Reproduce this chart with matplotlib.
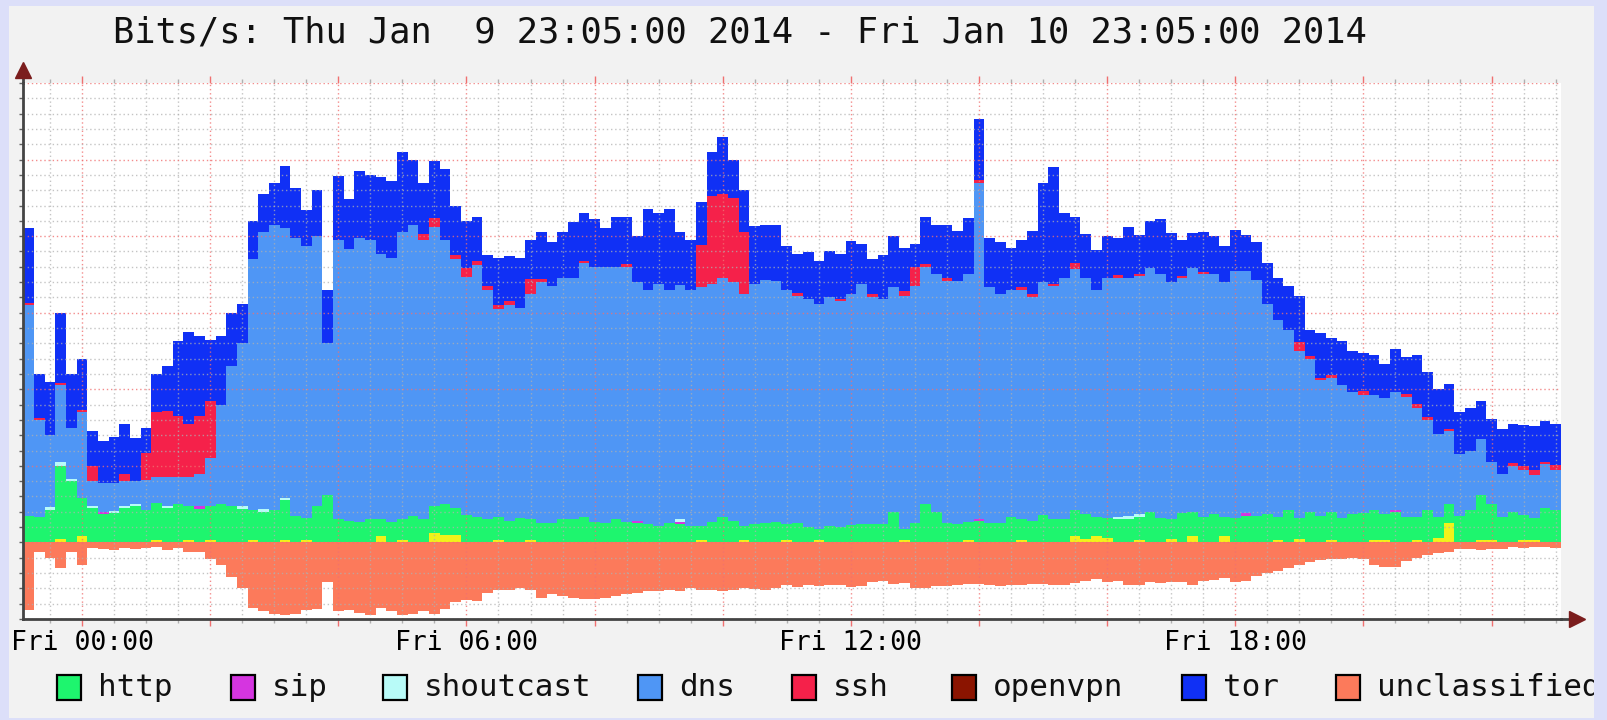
import numpy as np
import matplotlib
matplotlib.use("Agg")
import matplotlib.pyplot as plt
import matplotlib.dates as mdates
from matplotlib.patches import Rectangle
from matplotlib.ticker import MultipleLocator, FuncFormatter
from datetime import datetime, timedelta

# 10 minute steps from Thu Jan 9 23:05 to Fri Jan 10 23:05
start = datetime(2014, 1, 9, 23, 5)
step = timedelta(minutes=10)
n_steps = 144

# stack tops (units of one major grid step)
tor_top = [4.1, 2.2, 2.1, 3.0, 2.2, 2.4, 1.45, 1.32, 1.38, 1.55,
           1.37, 1.5, 2.2, 2.3, 2.63, 2.75, 2.7, 2.65, 2.7, 3.0,
           3.12, 4.2, 4.55, 4.69, 4.92, 4.63, 4.34, 4.6, 3.3, 4.78,
           4.48, 4.85, 4.8, 4.77, 4.72, 5.1, 5.0, 4.7, 4.98, 4.88,
           4.4, 4.2, 4.25, 3.75, 3.72, 3.74, 3.72, 3.95, 4.05, 3.93,
           4.05, 4.18, 4.3, 4.22, 4.1, 4.25, 4.25, 4.0, 4.35, 4.3,
           4.35, 4.05, 3.95, 4.45, 5.1, 5.3, 5.0, 4.6, 4.13, 4.15,
           4.15, 3.87, 3.77, 3.79, 3.68, 3.81, 3.77, 3.94, 3.9, 3.7,
           3.75, 4.0, 3.85, 3.9, 4.25, 4.15, 4.15, 4.07, 4.24, 5.53,
           3.97, 3.92, 3.85, 3.95, 4.07, 4.7, 4.9, 4.3, 4.25, 4.03,
           3.82, 4.0, 3.98, 4.12, 4.02, 4.2, 4.23, 4.04, 3.95, 4.04,
           4.06, 4.0, 3.87, 4.08, 4.02, 3.93, 3.65, 3.45, 3.35, 3.22,
           2.77, 2.73, 2.67, 2.63, 2.5, 2.47, 2.45, 2.33, 2.53, 2.42,
           2.45, 2.23, 2.0, 2.07, 1.7, 1.75, 1.85, 1.61, 1.48, 1.55,
           1.53, 1.52, 1.58, 1.55]

dns_top = [3.1, 1.6, 1.4, 2.05, 1.5, 1.7, 0.8, 0.78, 0.78, 0.8,
           0.8, 0.82, 0.85, 0.85, 0.85, 0.85, 0.9, 1.1, 1.8, 2.3,
           2.6, 3.7, 4.05, 4.15, 4.1, 3.97, 3.87, 4.0, 2.6, 3.95,
           3.83, 3.98, 3.95, 3.77, 3.72, 4.05, 4.15, 3.95, 4.12, 3.95,
           3.7, 3.47, 3.62, 3.3, 3.05, 3.1, 3.06, 3.24, 3.4, 3.35,
           3.45, 3.45, 3.65, 3.6, 3.6, 3.6, 3.6, 3.4, 3.3, 3.37,
           3.3, 3.36, 3.3, 3.33, 3.37, 3.45, 3.4, 3.25, 3.38, 3.43,
           3.42, 3.3, 3.22, 3.18, 3.12, 3.2, 3.15, 3.25, 3.38, 3.2,
           3.18, 3.33, 3.22, 3.35, 3.6, 3.5, 3.42, 3.42, 3.5, 4.7,
           3.33, 3.25, 3.3, 3.3, 3.2, 3.4, 3.35, 3.45, 3.57, 3.45,
           3.3, 3.45, 3.45, 3.45, 3.48, 3.58, 3.5, 3.4, 3.45, 3.58,
           3.5, 3.5, 3.4, 3.55, 3.55, 3.43, 3.12, 2.9, 2.78, 2.5,
           2.4, 2.12, 2.15, 2.05, 1.97, 1.93, 1.92, 1.88, 1.97, 1.9,
           1.75, 1.6, 1.42, 1.45, 1.15, 1.2, 1.35, 1.05, 0.9, 1.0,
           0.95, 0.88, 1.02, 0.95]

http_top = [0.35, 0.33, 0.42, 1.0, 0.8, 0.58, 0.45, 0.37, 0.38, 0.45,
            0.47, 0.42, 0.52, 0.45, 0.5, 0.47, 0.44, 0.47, 0.5, 0.48,
            0.44, 0.42, 0.4, 0.42, 0.55, 0.34, 0.32, 0.48, 0.62, 0.3,
            0.28, 0.27, 0.3, 0.3, 0.27, 0.31, 0.35, 0.3, 0.48, 0.5,
            0.45, 0.36, 0.33, 0.3, 0.33, 0.28, 0.32, 0.3, 0.26, 0.26,
            0.3, 0.3, 0.33, 0.27, 0.26, 0.3, 0.27, 0.25, 0.24, 0.22,
            0.25, 0.24, 0.21, 0.22, 0.27, 0.33, 0.28, 0.22, 0.24, 0.26,
            0.27, 0.24, 0.25, 0.2, 0.18, 0.22, 0.2, 0.23, 0.24, 0.24,
            0.24, 0.4, 0.18, 0.26, 0.5, 0.4, 0.25, 0.24, 0.27, 0.28,
            0.26, 0.26, 0.33, 0.3, 0.28, 0.36, 0.3, 0.31, 0.43, 0.37,
            0.33, 0.32, 0.3, 0.31, 0.33, 0.4, 0.32, 0.3, 0.38, 0.4,
            0.33, 0.37, 0.33, 0.32, 0.35, 0.35, 0.37, 0.33, 0.42, 0.32,
            0.4, 0.35, 0.4, 0.32, 0.37, 0.38, 0.43, 0.37, 0.4, 0.33,
            0.33, 0.43, 0.33, 0.5, 0.34, 0.43, 0.62, 0.5, 0.33, 0.4,
            0.36, 0.32, 0.45, 0.42]

# drawn below the zero line
unclassified = [0.88, 0.12, 0.2, 0.34, 0.12, 0.3, 0.07, 0.08, 0.1, 0.07,
                0.08, 0.07, 0.06, 0.1, 0.07, 0.12, 0.12, 0.22, 0.3, 0.45,
                0.6, 0.85, 0.9, 0.94, 0.95, 0.93, 0.88, 0.87, 0.52, 0.89,
                0.88, 0.92, 0.95, 0.85, 0.9, 0.95, 0.93, 0.9, 0.93, 0.87,
                0.78, 0.75, 0.76, 0.66, 0.62, 0.62, 0.6, 0.62, 0.72, 0.68,
                0.7, 0.72, 0.74, 0.74, 0.72, 0.7, 0.68, 0.66, 0.64, 0.64,
                0.62, 0.64, 0.6, 0.62, 0.62, 0.63, 0.62, 0.6, 0.61, 0.62,
                0.6, 0.56, 0.58, 0.56, 0.57, 0.56, 0.55, 0.58, 0.57, 0.52,
                0.5, 0.54, 0.53, 0.6, 0.6, 0.57, 0.57, 0.56, 0.54, 0.54,
                0.55, 0.57, 0.56, 0.56, 0.54, 0.54, 0.55, 0.55, 0.53, 0.5,
                0.48, 0.52, 0.5, 0.55, 0.55, 0.52, 0.53, 0.52, 0.52, 0.55,
                0.5, 0.49, 0.47, 0.52, 0.5, 0.44, 0.4, 0.37, 0.33, 0.3,
                0.25, 0.23, 0.21, 0.21, 0.2, 0.22, 0.3, 0.32, 0.32, 0.24,
                0.2, 0.17, 0.14, 0.13, 0.08, 0.08, 0.1, 0.08, 0.09, 0.06,
                0.07, 0.06, 0.06, 0.07]

# thin series, only the steps where they show up
ssh_spots = {0: 0.03, 1: 0.03, 3: 0.03, 5: 0.03, 6: 0.2, 9: 0.1, 11: 0.35,
             12: 0.85, 13: 0.87, 14: 0.8, 15: 0.7, 16: 0.75, 17: 0.75,
             37: 0.08, 38: 0.12, 40: 0.05, 41: 0.12, 42: 0.05, 43: 0.05,
             44: 0.05, 45: 0.05, 47: 0.2, 48: 0.04, 52: 0.03, 56: 0.04,
             63: 0.55, 64: 1.15, 65: 1.1, 66: 1.1, 67: 0.8, 72: 0.04,
             76: 0.03, 79: 0.05, 82: 0.06, 83: 0.25, 84: 0.03, 86: 0.03,
             89: 0.03, 93: 0.03, 94: 0.04, 96: 0.03, 98: 0.08, 102: 0.04,
             104: 0.03, 108: 0.03, 110: 0.03, 119: 0.12, 120: 0.04,
             121: 0.03, 122: 0.04, 125: 0.05, 129: 0.04, 130: 0.06,
             131: 0.04, 133: 0.03, 139: 0.04, 140: 0.05, 141: 0.06,
             142: 0.03, 143: 0.06}
sip_spots = {7: 0.03, 16: 0.03, 57: 0.03, 61: 0.03, 89: 0.03, 114: 0.03, 128: 0.03}
shoutcast_spots = {2: 0.04, 3: 0.05, 4: 0.03, 6: 0.02, 8: 0.03, 9: 0.03,
                   10: 0.03, 13: 0.02, 20: 0.03, 22: 0.04, 24: 0.03, 61: 0.03,
                   102: 0.03, 103: 0.04, 104: 0.04}
openvpn_spots = {}
# unlabelled yellow series at the base of the stack
other_spots = {3: 0.04, 5: 0.08, 12: 0.03, 15: 0.03, 17: 0.03, 21: 0.03,
               24: 0.03, 26: 0.03, 33: 0.09, 35: 0.03, 38: 0.12, 39: 0.1,
               40: 0.1, 44: 0.03, 47: 0.03, 63: 0.03, 67: 0.03, 71: 0.03,
               74: 0.03, 82: 0.03, 88: 0.03, 93: 0.03, 98: 0.08, 99: 0.05,
               100: 0.08, 101: 0.06, 104: 0.03, 107: 0.04, 109: 0.08,
               112: 0.08, 117: 0.03, 119: 0.04, 122: 0.03, 126: 0.03,
               127: 0.03, 130: 0.03, 132: 0.06, 133: 0.25, 136: 0.03,
               137: 0.03, 140: 0.03, 141: 0.03}

names = ["http", "sip", "shoutcast", "dns", "ssh", "openvpn", "tor", "unclassified"]
colors = ["#1ef56e", "#d535e0", "#b8fbf8", "#4f96f5", "#f5214a", "#8b1400",
          "#1030f5", "#fc7a5b"]
other_color = "#f2f21a"


def spots(d):
    a = np.zeros(n_steps)
    for k, v in d.items():
        a[k] = v
    return a


ssh = spots(ssh_spots)
sip = spots(sip_spots)
shoutcast = spots(shoutcast_spots)
openvpn = spots(openvpn_spots)
other = spots(other_spots)
http = np.array(http_top) - other
dns = np.array(dns_top) - np.array(http_top) - sip - shoutcast
tor = np.array(tor_top) - np.array(dns_top) - ssh - openvpn

layers = [other, http, sip, shoutcast, dns, ssh, openvpn, tor]
layer_colors = [other_color] + colors[:7]

edges = mdates.date2num([start + step * k for k in range(n_steps + 1)])

W, H = 1608, 720
fig = plt.figure(figsize=(W / 100, H / 100), dpi=100, facecolor="#dcdff9")
fig.add_artist(Rectangle((9 / W, 2 / H), 1585 / W, 712 / H, transform=fig.transFigure,
                         facecolor="#f2f2f2", edgecolor="none", zorder=-1))

ax = fig.add_axes([23.3 / W, 101 / H, 1537.7 / W, 536 / H])
ax.set_facecolor("white")

base = np.zeros(n_steps)
for vals, c in zip(layers, layer_colors):
    ax.stairs(base + vals, edges, baseline=base.copy(), fill=True, color=c, linewidth=0)
    base = base + vals
ax.stairs(-np.array(unclassified), edges, baseline=0, fill=True, color=colors[7], linewidth=0)

ax.set_xlim(edges[0], edges[-1])
ax.set_ylim(-1, 6)

mono = "DejaVu Sans Mono"


def fmt(v, pos):
    d = mdates.num2date(v)
    return d.strftime("%a %H:%M") if d.hour % 6 == 0 else ""


ax.xaxis.set_major_locator(mdates.HourLocator(byhour=range(0, 24, 2)))
ax.xaxis.set_minor_locator(mdates.MinuteLocator(byminute=[0, 30]))
ax.xaxis.set_major_formatter(FuncFormatter(fmt))
ax.yaxis.set_major_locator(MultipleLocator(1))
ax.yaxis.set_minor_locator(MultipleLocator(0.2))
ax.set_yticklabels([])

ax.set_axisbelow(False)
ax.grid(which="major", color="#f07070", linestyle=(0, (1, 2)), linewidth=1, alpha=0.8)
ax.grid(which="minor", color="#b0b0b0", linestyle=(0, (1, 2)), linewidth=1, alpha=0.75)

ax.tick_params(axis="x", which="major", direction="out", length=5, width=1,
               color="#f07070", top=True, pad=3, labelsize=19)
ax.tick_params(axis="x", which="minor", direction="out", length=3, width=1,
               color="#b0b0b0", top=True)
ax.tick_params(axis="y", which="both", direction="out", length=3, width=1,
               color="#606060", labelleft=False)
for lab in ax.get_xticklabels():
    lab.set_family(mono)

for s in ["top", "right"]:
    ax.spines[s].set_visible(False)
for s in ["left", "bottom"]:
    ax.spines[s].set_color("#444444")
    ax.spines[s].set_linewidth(2)
    ax.spines[s].set_zorder(3)

# axis arrows
ax.plot([0, 0], [1, 1.02], transform=ax.transAxes, clip_on=False, color="#444444", lw=2)
ax.plot([1, 1.008], [0, 0], transform=ax.transAxes, clip_on=False, color="#444444", lw=2)
ax.plot(0, 1.024, marker="^", ms=11, color="#7b1d1d", transform=ax.transAxes, clip_on=False)
ax.plot(1.0105, 0, marker=">", ms=11, color="#7b1d1d", transform=ax.transAxes, clip_on=False)

fig.text(113 / W, 1 - 32 / H, "Bits/s: Thu Jan  9 23:05:00 2014 - Fri Jan 10 23:05:00 2014",
         ha="left", va="center", family=mono, fontsize=25.5, color="#111111")

# legend
square_x = [57, 231, 383, 638, 792, 952, 1182, 1336]
for x, name, c in zip(square_x, names, colors):
    fig.add_artist(Rectangle((x / W, 20 / H), 24 / W, 25 / H, transform=fig.transFigure,
                             facecolor=c, edgecolor="black", linewidth=1.6, zorder=3))
    fig.text((x + 41) / W, 1 - 687 / H, name, ha="left", va="center",
             family=mono, fontsize=22.3, color="#111111", zorder=3)

# right border cuts off the last legend entry
fig.add_artist(Rectangle((1594 / W, 0), 14 / W, 1, transform=fig.transFigure,
                         facecolor="#dcdff9", edgecolor="none", zorder=10))

fig.savefig("out.png", dpi=100, facecolor=fig.get_facecolor())
